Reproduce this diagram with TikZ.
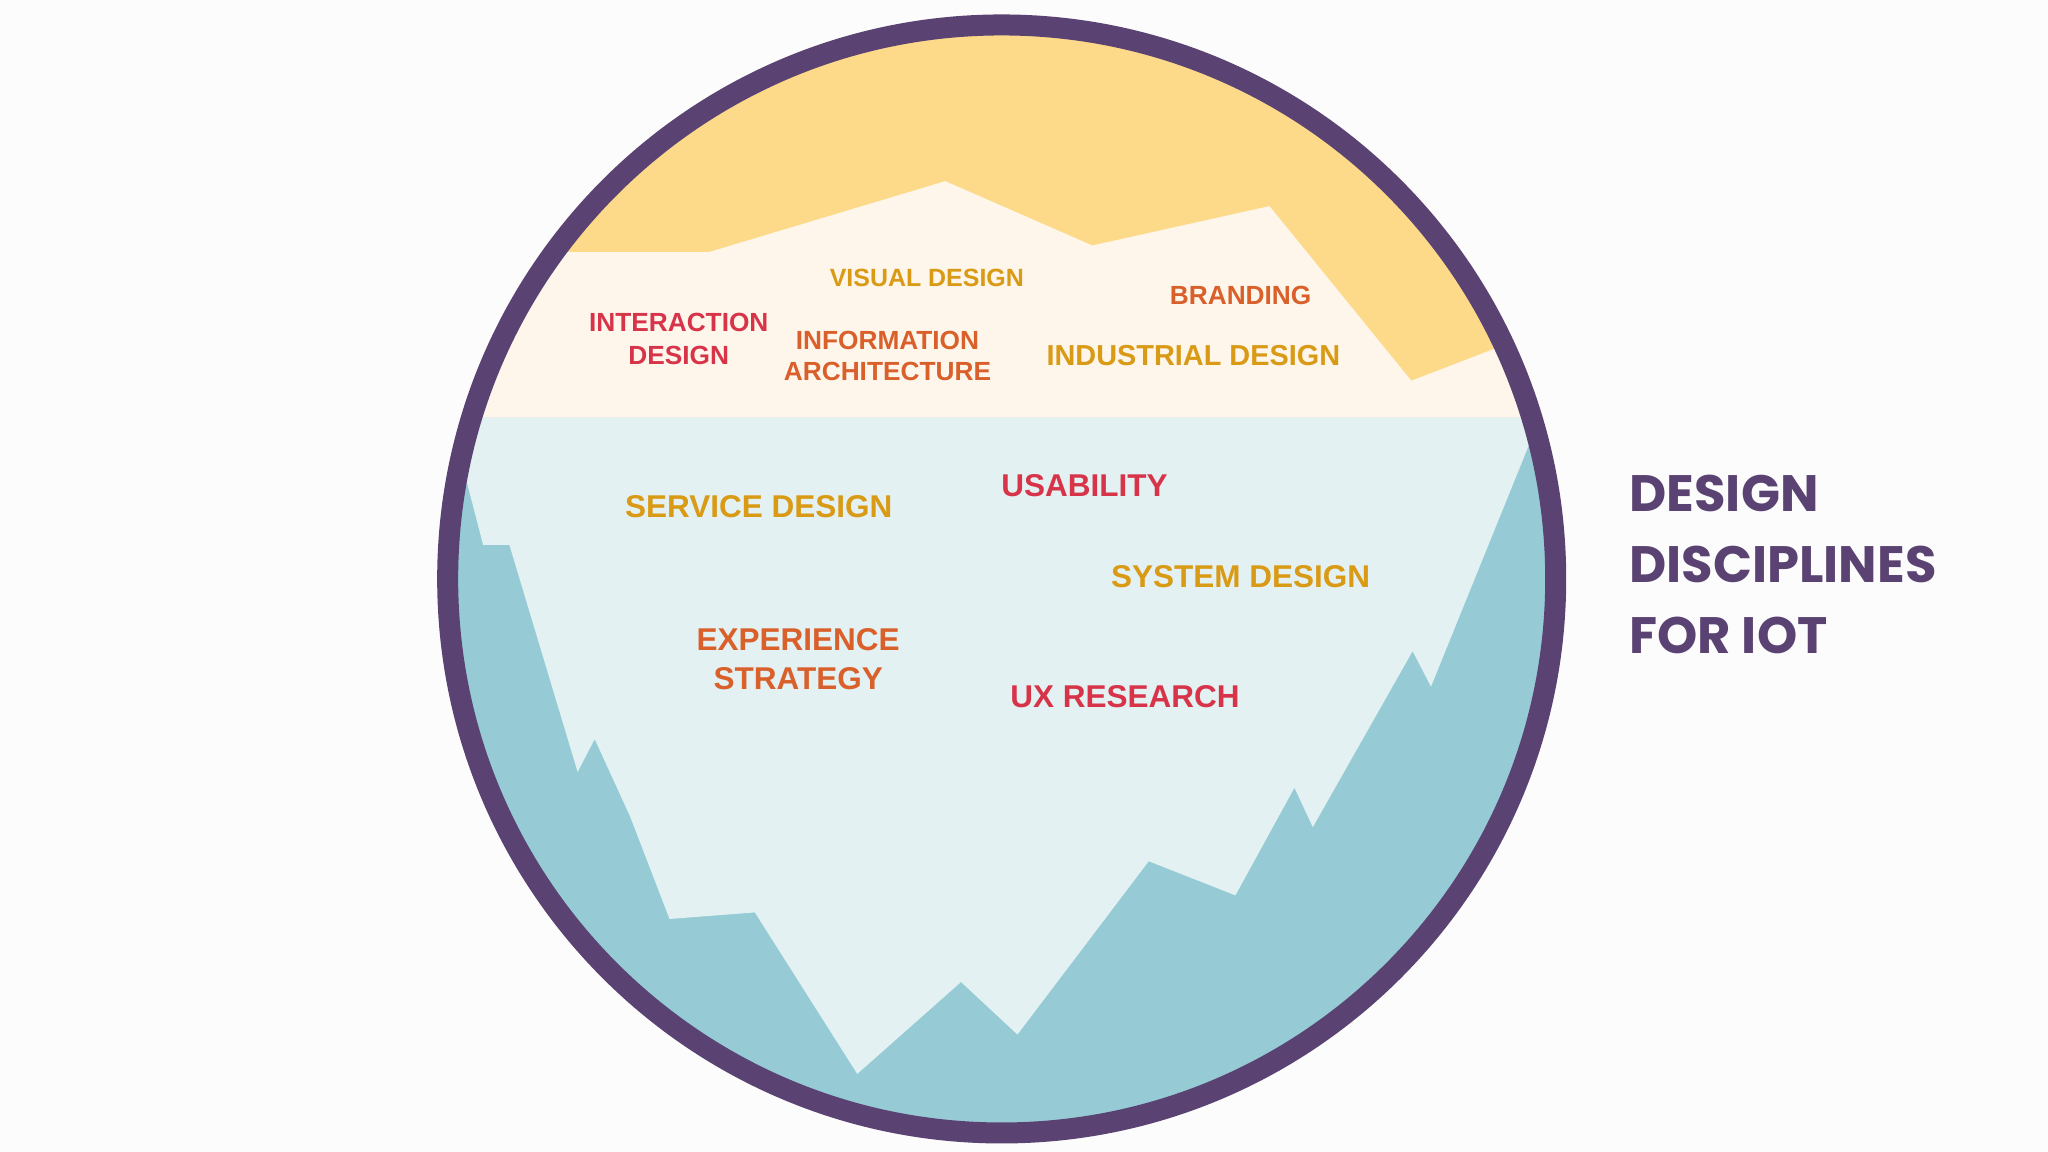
\documentclass[tikz,border=0pt]{standalone}
\usepackage{fontspec}
\setmainfont{Liberation Sans}
\newfontfamily\titlefont{Poppins}
\definecolor{sunY}{HTML}{FDDA8A}
\definecolor{cream}{HTML}{FEF6EA}
\definecolor{iceL}{HTML}{E4F1F2}
\definecolor{teal}{HTML}{96CBD5}
\definecolor{purp}{HTML}{5A4372}
\definecolor{cred}{HTML}{D7344A}
\definecolor{corg}{HTML}{D9602B}
\definecolor{cgold}{HTML}{D99A16}
\tikzset{lab/.style={font=\bfseries\fontsize{#1}{#1}\selectfont,align=center,inner sep=0pt},
 lab/.default=20}
\begin{document}
\begin{tikzpicture}[x=1pt,y=-1pt]
\useasboundingbox (0,0) rectangle (1560,877.5);
\fill[white!98!gray] (0,0) rectangle (1560,877.5);
\begin{scope}
\clip (763,441) circle (422);
\fill[sunY] (300,0) rectangle (1250,330);
\fill[cream] (300,192) -- (540,192) -- (720,138) -- (832,187) -- (967,157) -- (1075,290) -- (1140,265) -- (1250,230) -- (1250,318) -- (300,318) -- cycle;
\fill[teal] (300,318) rectangle (1250,900);
\fill[iceL] (300,318) -- (355,365) -- (368,415) -- (388,415) -- (440,588) -- (453,563) -- (480,622) -- (510,700) -- (575,695) -- (653,818) -- (732,748) -- (775,788) -- (875,656) -- (941,682) -- (986,600) -- (1000,630) -- (1076,496) -- (1090,523) -- (1165,338) -- (1170,318) -- cycle;
\draw[white!85!gray, line width=0.6pt] (300,318) -- (1250,318);
\end{scope}
\draw[purp, line width=16pt] (763,441) circle (422);
\node[lab=20,text=cred] (n1) at (517,258) {INTERACTION\\[5pt]DESIGN};
\node[lab=19,text=cgold] (n2) at (706,212) {VISUAL DESIGN};
\node[lab=20,text=corg] (n3) at (676,271) {INFORMATION\\[4pt]ARCHITECTURE};
\node[lab=20,text=corg] (n4) at (945,225) {BRANDING};
\node[lab=22,text=cgold] (n5) at (909,271) {INDUSTRIAL DESIGN};
\node[lab=24,text=cgold] (n6) at (578,386) {SERVICE DESIGN};
\node[lab=24,text=cred] (n7) at (826,370) {USABILITY};
\node[lab=24,text=cgold] (n8) at (945,439) {SYSTEM DESIGN};
\node[lab=24,text=corg] (n9) at (608,502) {EXPERIENCE\\[6pt]STRATEGY};
\node[lab=24,text=cred] (n10) at (857,531) {UX RESEARCH};
\node[anchor=west,align=left,text=purp,inner sep=0pt,font=\titlefont\bfseries\fontsize{39}{54}\selectfont] (t) at (1241,430) {DESIGN\\DISCIPLINES\\FOR IOT};
\end{tikzpicture}
\end{document}
